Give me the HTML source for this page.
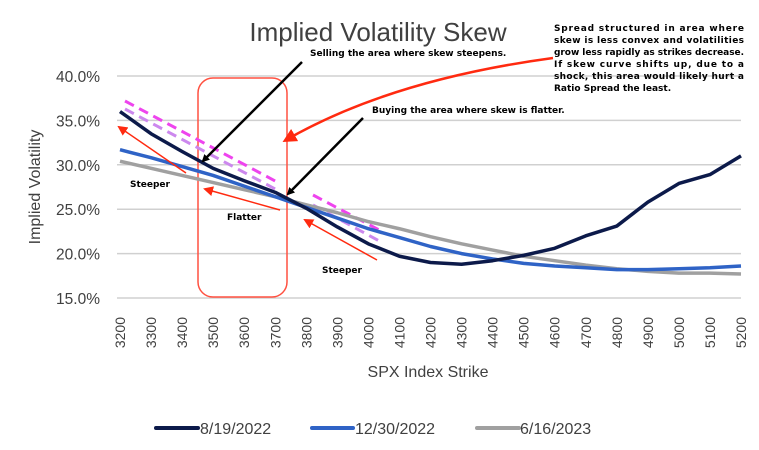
<!DOCTYPE html>
<html><head><meta charset="utf-8"><style>
body{margin:0;background:#fff;}
svg{display:block;}
.ann{font-family:"DejaVu Sans",Verdana,sans-serif;font-weight:bold;font-size:9px;fill:#000;}
</style></head><body>
<svg id="chart" width="759" height="450" viewBox="0 0 759 450">
<defs>
<marker id="ab" markerWidth="8" markerHeight="8" refX="6" refY="4" orient="auto" markerUnits="userSpaceOnUse"><path d="M0,0 L8,4 L0,8 z" fill="#000"/></marker>
<marker id="ar" markerWidth="14" markerHeight="14" refX="10" refY="7" orient="auto" markerUnits="userSpaceOnUse"><path d="M0,0 L14,7 L0,14 z" fill="#ff2a10"/></marker>
<marker id="ar2" markerWidth="10" markerHeight="10" refX="8" refY="5" orient="auto" markerUnits="userSpaceOnUse"><path d="M0,0 L10,5 L0,10 z" fill="#ff2a10"/></marker>
</defs>
<text x="378" y="41" text-anchor="middle" font-family="Liberation Sans, sans-serif" font-size="26" fill="#404040">Implied Volatility Skew</text>
<g id="grid"></g><g id="yticks"></g><g id="xticks"></g><g id="extras"></g><g id="series"></g>
<text transform="translate(40,187) rotate(-90)" text-anchor="middle" font-family="Liberation Sans, sans-serif" font-size="16" fill="#404040">Implied Volatility</text>
<text x="428" y="377" text-anchor="middle" font-family="Liberation Sans, sans-serif" font-size="16" fill="#404040">SPX Index Strike</text>
<g font-family="Liberation Sans, sans-serif" font-size="16" fill="#404040">
<line x1="156" y1="428" x2="198" y2="428" stroke="#0c1a4a" stroke-width="4" stroke-linecap="round"/>
<text x="200" y="434">8/19/2022</text>
<line x1="312" y1="428" x2="353" y2="428" stroke="#2f63c6" stroke-width="4" stroke-linecap="round"/>
<text x="355" y="434">12/30/2022</text>
<line x1="477" y1="428" x2="519" y2="428" stroke="#a0a0a0" stroke-width="4" stroke-linecap="round"/>
<text x="520" y="434">6/16/2023</text>
</g>
</svg>
<script>
const strikes=[3200,3300,3400,3500,3600,3700,3800,3900,4000,4100,4200,4300,4400,4500,4600,4700,4800,4900,5000,5100,5200];
const aug2022=[36,33.5,31.5,29.6,28.2,26.9,25.1,23.0,21.1,19.7,19.0,18.8,19.2,19.8,20.6,22.0,23.1,25.8,27.9,28.9,31.0];
const dec2022=[31.7,30.8,29.8,28.8,27.6,26.4,25.2,24.0,22.8,21.8,20.8,20.0,19.4,18.9,18.6,18.4,18.2,18.2,18.3,18.4,18.6];
const jun2023=[30.4,29.6,28.8,28.0,27.2,26.4,25.5,24.6,23.6,22.8,21.9,21.1,20.4,19.7,19.2,18.7,18.3,18.0,17.8,17.8,17.7];
const yTicks=[15,20,25,30,35,40];
const NS='http://www.w3.org/2000/svg';
const X0=120,X1=741,Y0=76,Y1=298,YMIN=15,YMAX=40;
function xs(i){return X0+(X1-X0)*i/(strikes.length-1);}
function ys(v){return Y1-(v-YMIN)/(YMAX-YMIN)*(Y1-Y0);}
function mk(tag,attrs,parent){const e=document.createElementNS(NS,tag);for(const k in attrs)e.setAttribute(k,attrs[k]);parent.appendChild(e);return e;}
const gridG=document.getElementById('grid'),ytG=document.getElementById('yticks'),xtG=document.getElementById('xticks');
yTicks.forEach(v=>{
 const l=mk('line',{x1:117,x2:741,y1:ys(v),y2:ys(v),stroke:'#d0d0d0','stroke-width':1.5},gridG);
 
 
 const t=mk('text',{x:100,y:ys(v)+6,'text-anchor':'end','font-family':'Liberation Sans, sans-serif','font-size':15.5,fill:'#404040'},ytG);
 t.textContent=v.toFixed(1)+'%';
 
 
});
strikes.forEach((s,i)=>{
 const t=mk('text',{transform:'translate('+(xs(i)+5)+',317) rotate(-90)','text-anchor':'end','font-family':'Liberation Sans, sans-serif','font-size':14,fill:'#404040'},xtG);
 t.textContent=s;
 
 
});
const exG=document.getElementById('extras');
const box=mk('rect',{x:198,y:78,width:89,height:219,rx:15,fill:'none',stroke:'#ff5040','stroke-width':1.5},exG);


[[125,101,279,183,'#ee44ee'],[125,109,279,191,'#cc88ee'],[313,195,383,232,'#ee44ee'],[313,205,383,243,'#cc88ee']].forEach(d=>{
 const l=mk('line',{x1:d[0],y1:d[1],x2:d[2],y2:d[3],stroke:d[4],'stroke-width':3,'stroke-dasharray':'10,6'},exG);
 
 
});
const seriesG=document.getElementById('series');
[[jun2023,'#a0a0a0','series-2023-06'],[dec2022,'#2f63c6','series-2022-12'],[aug2022,'#0c1a4a','series-2022-08']].forEach(s=>{
 const p=mk('polyline',{points:s[0].map((v,i)=>xs(i)+','+ys(v)).join(' '),fill:'none',stroke:s[1],'stroke-width':3.5,'stroke-linejoin':'round'},seriesG);
 
 
});
const annG=mk('g',{},seriesG);


[[302,62,203,161],[363,118,288,194]].forEach(d=>{
 const l=mk('line',{x1:d[0],y1:d[1],x2:d[2],y2:d[3],stroke:'#000','stroke-width':2.5,'marker-end':'url(#ab)'},annG);
 
 
});
[[186,173,119,127],[280,210,205,189],[377,260,305,220]].forEach(d=>{
 const l=mk('line',{x1:d[0],y1:d[1],x2:d[2],y2:d[3],stroke:'#ff2a10','stroke-width':1.5,'marker-end':'url(#ar2)'},annG);
 
 
});
const curve=mk('path',{d:'M553,58 Q390,80 286,140',fill:'none',stroke:'#ff2a10','stroke-width':2.5,'marker-end':'url(#ar)'},annG);


function txt(x,y,s,name){const t=mk('text',{x:x,y:y,class:'ann'},annG);t.textContent=s;return t;}
txt(310,56,'Selling the area where skew steepens.','selling-note');
txt(372,113,'Buying the area where skew is flatter.','buying-note');
txt(130,187,'Steeper','steeper-label-left');
txt(227,220,'Flatter','flatter-label');
txt(322,273,'Steeper','steeper-label-right');
['Spread structured in area where','skew is less convex and volatilities','grow less rapidly as strikes decrease.','If skew curve shifts up, due to a','shock, this area would likely hurt a','Ratio Spread the least.'].forEach((s,i)=>{
 const t=txt(554,31+i*12,s,'spread-note-line');
 if(i<5){t.setAttribute('textLength',190);t.setAttribute('lengthAdjust','spacing');}
});
</script>
</body></html>
